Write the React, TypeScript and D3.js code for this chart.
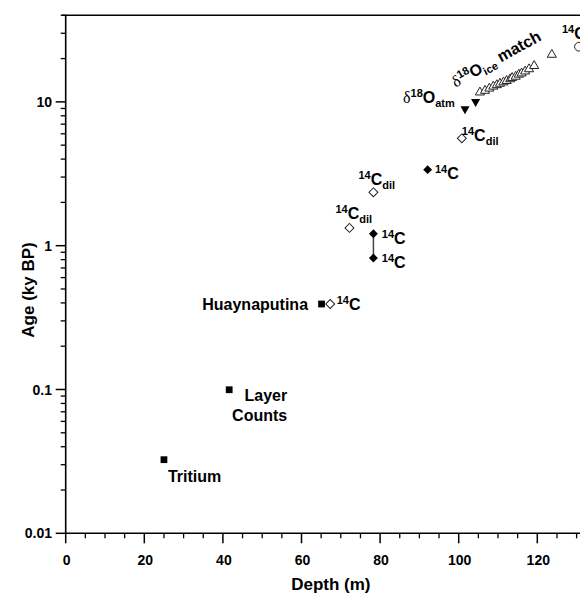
import * as d3 from 'd3';

// depth (m) / age (ky BP)
const tritiumDepth = [25.0];
const tritiumAge = [0.0325];
const layerDepth = [41.6];
const layerAge = [0.0996];
const huayDepth = [65.1];
const huayAge = [0.393];
const c14OpenDepth = [67.3, 72.2, 78.3, 100.8];
const c14OpenAge = [0.393, 1.33, 2.35, 5.58];
const c14Depth = [78.3, 78.3, 92.1];
const c14Age = [1.21, 0.82, 3.38];
const o18AtmDepth = [101.6, 104.3];
const o18AtmAge = [8.93, 10.03];
const o18IceDepth = [105.4, 106.7, 107.8, 108.8, 109.7, 110.5, 111.4, 112.2, 113.1, 113.6, 114.5, 115.3, 116.0, 116.9, 117.9, 119.2, 123.7];
const o18IceAge = [11.65, 11.97, 12.4, 12.8, 13.1, 13.4, 13.7, 14.0, 14.4, 14.7, 15.0, 15.5, 15.8, 16.3, 16.9, 17.8, 21.3];
const farDepth = [130.6];
const farAge = [24.2];

const xTicks = [0, 20, 40, 60, 80, 100, 120];
const yTicks = [0.01, 0.1, 1, 10];

const W = 580;
const H = 594;
const FONT = '"Liberation Sans", Arial, sans-serif';

const x = d3.scaleLinear().domain([0, 140]).range([65.7, 65.7 + 140 * 3.93]);
const y = d3.scaleLog().domain([0.01, 40]).range([533.3, 15.3]);

const xMinor = d3.range(0, 141, 5).filter((v) => v % 20 !== 0);
const yMinor: number[] = [];
yTicks.forEach((d) => {
  for (let k = 2; k <= 9; k++) if (d * k <= 40) yMinor.push(d * k);
});

type Part = { t: string; k: 'sup' | 'main' | 'sub' | 'delta' };
const shift = { sup: -6, main: 0, sub: 4, delta: 0 };
const size = { sup: 11, main: 16, sub: 11, delta: 16 };

const sup14C: Part[] = [{ t: '14', k: 'sup' }, { t: 'C', k: 'main' }];
const sup14Cdil: Part[] = [...sup14C, { t: 'dil', k: 'sub' }];

const pts = (xs: number[], ys: number[]) => xs.map((d, i) => [x(d), y(ys[i])] as [number, number]);

const annotations: { at: [number, number]; dx: number; dy: number; anchor?: string; rotate?: number; parts: Part[] }[] = [
  { at: pts(tritiumDepth, tritiumAge)[0], dx: 4, dy: 22, parts: [{ t: 'Tritium', k: 'main' }] },
  { at: pts(layerDepth, layerAge)[0], dx: 58, dy: 11, anchor: 'end', parts: [{ t: 'Layer', k: 'main' }] },
  { at: pts(layerDepth, layerAge)[0], dx: 58, dy: 31, anchor: 'end', parts: [{ t: 'Counts', k: 'main' }] },
  { at: pts(huayDepth, huayAge)[0], dx: -13.5, dy: 6, anchor: 'end', parts: [{ t: 'Huaynaputina', k: 'main' }] },
  { at: pts(c14OpenDepth, c14OpenAge)[0], dx: 6.5, dy: 6, parts: sup14C },
  { at: pts(c14OpenDepth, c14OpenAge)[1], dx: -14, dy: -9, parts: sup14Cdil },
  { at: pts(c14OpenDepth, c14OpenAge)[2], dx: -15, dy: -7, parts: sup14Cdil },
  { at: pts(c14OpenDepth, c14OpenAge)[3], dx: 0, dy: 2.5, parts: sup14Cdil },
  { at: pts(c14Depth, c14Age)[0], dx: 8.4, dy: 10, parts: sup14C },
  { at: pts(c14Depth, c14Age)[1], dx: 8.4, dy: 9.5, parts: sup14C },
  { at: pts(c14Depth, c14Age)[2], dx: 7.3, dy: 9.3, parts: sup14C },
  {
    at: pts(o18AtmDepth, o18AtmAge)[0], dx: -62, dy: -5.6,
    parts: [{ t: 'δ', k: 'delta' }, { t: '18', k: 'sup' }, { t: 'O', k: 'main' }, { t: 'atm', k: 'sub' }],
  },
  {
    at: pts(o18AtmDepth, o18AtmAge)[1], dx: -20, dy: -14, rotate: -29,
    parts: [{ t: 'δ', k: 'delta' }, { t: '18', k: 'sup' }, { t: 'O', k: 'main' }, { t: 'ice', k: 'sub' }, { t: ' match', k: 'main' }],
  },
  { at: pts(farDepth, farAge)[0], dx: -17, dy: -8, parts: sup14C },
];

function Label({ a }: { a: (typeof annotations)[number] }) {
  let cur = 0;
  const px = a.at[0] + a.dx;
  const py = a.at[1] + a.dy;
  return (
    <text
      x={px}
      y={py}
      textAnchor={a.anchor ?? 'start'}
      fontFamily={FONT}
      fontWeight="bold"
      fill="#000"
      transform={a.rotate ? `rotate(${a.rotate},${px},${py})` : undefined}
    >
      {a.parts.map((p, i) => {
        const dy = shift[p.k] - cur;
        cur = shift[p.k];
        return (
          <tspan
            key={i}
            dy={dy}
            fontSize={size[p.k]}
            fontFamily={p.k === 'delta' ? '"Liberation Serif", serif' : undefined}
            fontWeight={p.k === 'delta' ? 'normal' : undefined}
          >
            {p.t}
          </tspan>
        );
      })}
    </text>
  );
}

const sym = (type: d3.SymbolType, area: number) => d3.symbol().type(type).size(area)() ?? '';

export default function App() {
  const square = sym(d3.symbolSquare, 46);
  const diamond = sym(d3.symbolSquare, 40);
  const tri = sym(d3.symbolTriangle, 36);
  const circle = sym(d3.symbolCircle, 60);
  const [v0, v1] = pts(c14Depth, c14Age);

  return (
    <svg width={W} height={H} style={{ position: 'absolute', left: 0, top: 0, background: '#fff' }}>
      {/* frame */}
      <line x1={62} x2={W} y1={y(40)} y2={y(40)} stroke="#000" strokeWidth={1.6} />
      <line x1={x(0)} x2={x(0)} y1={y(40)} y2={y(0.01)} stroke="#000" strokeWidth={1.6} />
      <line x1={x(0)} x2={W} y1={y(0.01)} y2={y(0.01)} stroke="#000" strokeWidth={1.6} />

      {/* x ticks */}
      {xMinor.map((t) => (
        <line key={`xm${t}`} x1={x(t)} x2={x(t)} y1={y(0.01)} y2={y(0.01) + 5} stroke="#000" strokeWidth={1.3} />
      ))}
      {xTicks.map((t) => (
        <g key={`x${t}`}>
          <line x1={x(t)} x2={x(t)} y1={y(0.01)} y2={y(0.01) + 10} stroke="#000" strokeWidth={1.5} />
          <text x={x(t) + 1} y={565} textAnchor="middle" fontFamily={FONT} fontWeight="bold" fontSize={14}>
            {t}
          </text>
        </g>
      ))}

      {/* y ticks */}
      {yMinor.map((t) => (
        <line key={`ym${t}`} x1={x(0) - 5} x2={x(0)} y1={y(t)} y2={y(t)} stroke="#000" strokeWidth={1.3} />
      ))}
      {yTicks.map((t) => (
        <g key={`y${t}`}>
          <line x1={x(0) - 10} x2={x(0)} y1={y(t)} y2={y(t)} stroke="#000" strokeWidth={1.5} />
          <text x={52} y={y(t)} dy="0.36em" textAnchor="end" fontFamily={FONT} fontWeight="bold" fontSize={14}>
            {t}
          </text>
        </g>
      ))}

      <text x={(x(0) + W) / 2 + 8} y={590} textAnchor="middle" fontFamily={FONT} fontWeight="bold" fontSize={17}>
        Depth (m)
      </text>
      <text
        transform={`translate(34,${290}) rotate(-90)`}
        textAnchor="middle"
        fontFamily={FONT}
        fontWeight="bold"
        fontSize={17}
      >
        Age (ky BP)
      </text>

      {/* 14C range bar */}
      <line x1={v0[0]} x2={v1[0]} y1={v0[1]} y2={v1[1]} stroke="#444" strokeWidth={1.5} />

      {[...pts(tritiumDepth, tritiumAge), ...pts(layerDepth, layerAge), ...pts(huayDepth, huayAge)].map(([cx, cy], i) => (
        <path key={`sq${i}`} d={square} transform={`translate(${cx},${cy})`} fill="#000" />
      ))}
      {pts(c14OpenDepth, c14OpenAge).map(([cx, cy], i) => (
        <path key={`od${i}`} d={diamond} transform={`translate(${cx},${cy}) rotate(45)`} fill="#fff" stroke="#222" strokeWidth={1} />
      ))}
      {pts(c14Depth, c14Age).map(([cx, cy], i) => (
        <path key={`fd${i}`} d={diamond} transform={`translate(${cx},${cy}) rotate(45)`} fill="#000" />
      ))}
      {pts(o18AtmDepth, o18AtmAge).map(([cx, cy], i) => (
        <path key={`ft${i}`} d={tri} transform={`translate(${cx},${cy}) rotate(180)`} fill="#000" />
      ))}
      {pts(o18IceDepth, o18IceAge).map(([cx, cy], i) => (
        <path key={`ot${i}`} d={tri} transform={`translate(${cx},${cy})`} fill="#fff" stroke="#222" strokeWidth={1} />
      ))}
      {pts(farDepth, farAge).map(([cx, cy], i) => (
        <path key={`oc${i}`} d={circle} transform={`translate(${cx},${cy})`} fill="#fff" stroke="#222" strokeWidth={1} />
      ))}

      {annotations.map((a, i) => (
        <Label key={i} a={a} />
      ))}
    </svg>
  );
}
